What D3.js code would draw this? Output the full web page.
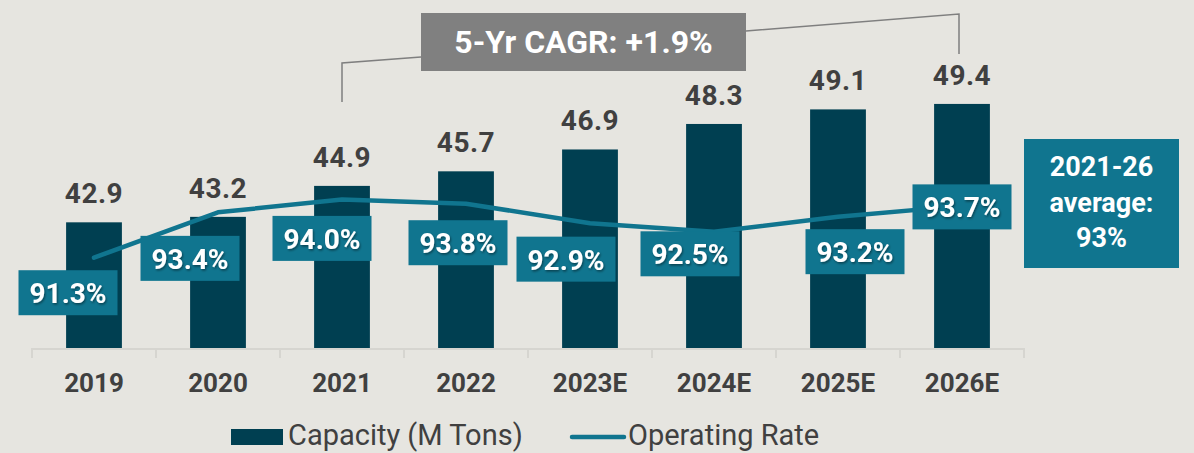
<!DOCTYPE html>
<html>
<head>
<meta charset="utf-8">
<script src="https://cdn.jsdelivr.net/npm/d3@7"></script>
<style>
  body { margin: 0; background: #e6e5e0; }
  svg { display: block; font-family: Roboto, "Noto Sans", sans-serif; }
</style>
</head>
<body>
<div id="chart"></div>
<script>
// data
var years = ['2019', '2020', '2021', '2022', '2023E', '2024E', '2025E', '2026E'];
var capacity = [42.9, 43.2, 44.9, 45.7, 46.9, 48.3, 49.1, 49.4];
var opRate = [91.3, 93.4, 94.0, 93.8, 92.9, 92.5, 93.2, 93.7];
var cagrText = '5-Yr CAGR: +1.9%';
var avgText = ['2021-26', 'average:', '93%'];
var legendNames = ['Capacity (M Tons)', 'Operating Rate'];

// label nudges (px) for the rate boxes, so they sit clear of the line
var labelNudge = [[-26, 35], [-28, 46], [-20, 39], [-8, 39], [-24, 36], [-24, 22], [17, 35], [0, 1]];

var w = 1194, h = 453;
var barColor = '#003f51', lineColor = '#10758f', textColor = '#404040';

var svg = d3.select('#chart').append('svg')
  .attr('width', w)
  .attr('height', h);

var defs = svg.append('defs');
var f = defs.append('filter').attr('id', 'shadow').attr('x', '-20%').attr('y', '-20%').attr('width', '140%').attr('height', '140%');
f.append('feDropShadow').attr('dx', 1).attr('dy', 1.5).attr('stdDeviation', 1).attr('flood-color', '#000').attr('flood-opacity', 0.45);

var x = d3.scaleBand()
  .domain(years)
  .range([32, 1024])
  .paddingInner(0.55)
  .paddingOuter(0.275);

var y = d3.scaleLinear()
  .domain([36, 50])
  .range([348, 93]);

var yRate = d3.scaleLinear()
  .domain([85, 100])
  .range([393.8, 69.8]);

var cx = d => x(d) + x.bandwidth() / 2;

// bars
svg.append('g')
  .selectAll('rect')
  .data(years)
  .join('rect')
  .attr('x', d => x(d))
  .attr('y', (d, i) => y(capacity[i]))
  .attr('width', x.bandwidth())
  .attr('height', (d, i) => y.range()[0] - y(capacity[i]))
  .style('fill', barColor);

// bar values
svg.append('g')
  .selectAll('text')
  .data(years)
  .join('text')
  .attr('x', d => cx(d))
  .attr('y', (d, i) => y(capacity[i]) - 19)
  .attr('text-anchor', 'middle')
  .attr('font-size', '28px')
  .attr('letter-spacing', '0.5px')
  .attr('font-weight', 'bold')
  .attr('fill', textColor)
  .text((d, i) => capacity[i].toFixed(1));

// axis
var base = y.range()[0];
var axisG = svg.append('g').attr('stroke', '#d6d5d0').attr('stroke-width', 2);
axisG.append('line')
  .attr('x1', x.range()[0]).attr('x2', x.range()[1])
  .attr('y1', base + 1).attr('y2', base + 1);
axisG.selectAll('line.tick')
  .data(years.concat(['end']))
  .join('line')
  .attr('class', 'tick')
  .attr('x1', (d, i) => x.range()[0] + i * x.step())
  .attr('x2', (d, i) => x.range()[0] + i * x.step())
  .attr('y1', base).attr('y2', base + 10);

svg.append('g')
  .selectAll('text')
  .data(years)
  .join('text')
  .attr('x', d => cx(d))
  .attr('y', base + 44)
  .attr('text-anchor', 'middle')
  .attr('font-size', '26px')
  .attr('font-weight', 'bold')
  .attr('fill', textColor)
  .text(d => d);

// operating rate line
var line = d3.line()
  .x((d, i) => cx(years[i]))
  .y(d => yRate(d));

svg.append('path')
  .datum(opRate)
  .attr('d', line)
  .attr('fill', 'none')
  .attr('stroke', lineColor)
  .attr('stroke-width', 4.5)
  .attr('stroke-linecap', 'round')
  .attr('stroke-linejoin', 'round');

// rate labels
var bw = 99, bh = 45;
var lab = svg.append('g')
  .selectAll('g')
  .data(opRate)
  .join('g')
  .attr('transform', (d, i) => 'translate(' + (cx(years[i]) + labelNudge[i][0]) + ',' + (yRate(d) + labelNudge[i][1]) + ')');
lab.append('rect')
  .attr('x', -bw / 2).attr('y', -bh / 2)
  .attr('width', bw).attr('height', bh)
  .attr('fill', lineColor);
lab.append('text')
  .attr('y', 10.5)
  .attr('text-anchor', 'middle')
  .attr('font-size', '28px')
  .attr('font-weight', 'bold')
  .attr('fill', '#fff')
  .attr('filter', 'url(#shadow)')
  .text(d => d.toFixed(1) + '%');

// CAGR bracket
var bx0 = 421, bx1 = 746, by0 = 13, by1 = 71;
var leftX = cx(years[2]), rightX = cx(years[7]);
svg.append('path')
  .attr('d', 'M' + leftX + ',102 L' + leftX + ',63 L' + bx0 + ',57')
  .attr('fill', 'none').attr('stroke', '#7f7f7f').attr('stroke-width', 1.5);
svg.append('path')
  .attr('d', 'M' + bx1 + ',31 L' + (rightX - 3) + ',14 L' + (rightX - 3) + ',54')
  .attr('fill', 'none').attr('stroke', '#7f7f7f').attr('stroke-width', 1.5);
svg.append('rect')
  .attr('x', bx0).attr('y', by0)
  .attr('width', bx1 - bx0).attr('height', by1 - by0)
  .attr('fill', '#808080');
svg.append('text')
  .attr('x', (bx0 + bx1) / 2)
  .attr('y', 53)
  .attr('text-anchor', 'middle')
  .attr('font-size', '32px')
  .attr('font-weight', 'bold')
  .attr('fill', '#fff')
  .text(cagrText);

// average box
svg.append('rect')
  .attr('x', 1024).attr('y', 139)
  .attr('width', 155).attr('height', 129)
  .attr('fill', lineColor);
svg.append('g')
  .selectAll('text')
  .data(avgText)
  .join('text')
  .attr('x', 1101.5)
  .attr('y', (d, i) => 176 + i * 35.5)
  .attr('text-anchor', 'middle')
  .attr('font-size', '27px')
  .attr('font-weight', 'bold')
  .attr('fill', '#fff')
  .text(d => d);

// legend
var lg = svg.append('g').attr('font-size', '29px').attr('fill', textColor);
lg.append('rect')
  .attr('x', 231).attr('y', 429)
  .attr('width', 52).attr('height', 16)
  .attr('fill', barColor);
lg.append('text').attr('x', 288).attr('y', 445).text(legendNames[0]);
lg.append('line')
  .attr('x1', 572).attr('x2', 624)
  .attr('y1', 437).attr('y2', 437)
  .attr('stroke', lineColor).attr('stroke-width', 4.5).attr('stroke-linecap', 'round');
lg.append('text').attr('x', 628).attr('y', 445).text(legendNames[1]);
</script>
</body>
</html>
